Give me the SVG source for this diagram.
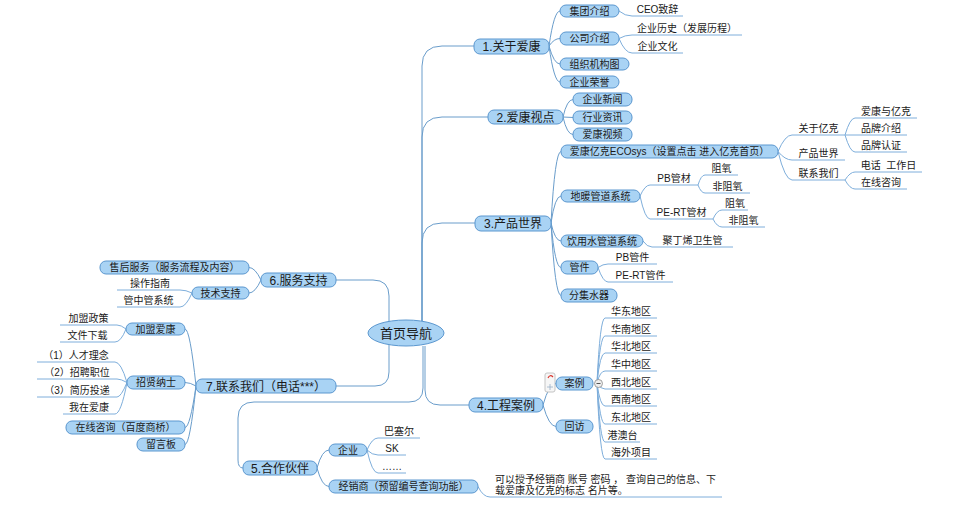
<svg xmlns="http://www.w3.org/2000/svg" width="960" height="506" viewBox="0 0 960 506">
<style>
text{font-family:"Liberation Sans","Noto Sans CJK SC",sans-serif;fill:#1a1a1a}
.m{fill:#a9d3f4;stroke:#5b97cf;stroke-width:1}
.s{fill:#a9d3f4;stroke:#5b97cf;stroke-width:1}
.t13{font-size:13px;text-anchor:middle}
.t12{font-size:12px;text-anchor:middle}
.t10{font-size:10px;text-anchor:middle}
.l10{font-size:10px}
.c{fill:none;stroke:#6a9dcb;stroke-width:1}
.u{fill:none;stroke:#7eaedb;stroke-width:1}
</style>
<rect width="960" height="506" fill="#ffffff"/>
<g id="connectors">
<!-- center to main -->
<path class="c" d="M422,321 L422,66 Q422,46 442,46 L474,46"/>
<path class="c" d="M422,321 L422,137 Q422,117 442,117 L488,117"/>
<path class="c" d="M422,321 L422,243 Q422,223 442,223 L475,223"/>
<path class="c" d="M425,346 L425,390 Q425,405 440,405 L469,405"/>
<path class="c" d="M423,346 L423,388 Q423,402 409,402 L254,402 Q238,402 238,418 L238,460 Q238,468 243,468"/>
<path class="c" d="M389,322 L389,296 Q389,280 373,280 L336,280"/>
<path class="c" d="M389,345 L389,372 Q389,386 375,386 L336,386"/>
<!-- 1 kids -->
<path class="c" d="M549,46 Q554,11 560,11"/>
<path class="c" d="M549,46 Q554,38.5 560,38.5"/>
<path class="c" d="M549,46 Q554,64 560,64"/>
<path class="c" d="M549,46 Q554,82 560,82"/>
<path class="u" d="M619,11 Q625,16 632,16 L683,16"/>
<path class="u" d="M619,38.5 Q625,35 632,35 L742,35"/>
<path class="u" d="M619,38.5 Q625,53 632,53 L683,53"/>
<!-- 2 kids -->
<path class="c" d="M563,117 Q567,99.5 573,99.5"/>
<path class="c" d="M563,117 L573,117.5"/>
<path class="c" d="M563,117 Q567,134.5 573,134.5"/>
<!-- 3 kids -->
<path class="c" d="M551,223 Q555,151.5 561,151.5"/>
<path class="c" d="M551,223 Q555,196 561,196"/>
<path class="c" d="M551,223 Q555,241 561,241"/>
<path class="c" d="M551,223 Q555,267.5 561,267.5"/>
<path class="c" d="M551,223 Q555,295.5 561,295.5"/>
<path class="u" d="M778,151.5 Q785,135 792,135 L845,135"/>
<path class="u" d="M778,151.5 Q785,160 792,160 L845,160"/>
<path class="u" d="M778,151.5 Q785,180 792,180 L845,180"/>
<path class="u" d="M845,135 Q850,118 855,118 L917,118"/>
<path class="u" d="M845,135 L907,135"/>
<path class="u" d="M845,135 Q850,152 855,152 L907,152"/>
<path class="u" d="M845,180 Q850,172 855,172 L922,172"/>
<path class="u" d="M845,180 Q850,189 855,189 L907,189"/>
<path class="u" d="M640,196 Q645,185 650,185 L698,185"/>
<path class="u" d="M640,196 Q645,219 650,219 L713,219"/>
<path class="u" d="M698,185 Q701,175 705,175 L738,175"/>
<path class="u" d="M698,185 Q701,193 705,193 L750,193"/>
<path class="u" d="M713,219 Q717,210 722,210 L748,210"/>
<path class="u" d="M713,219 Q717,227 722,227 L765,227"/>
<path class="u" d="M643,241 Q647,247 652,247 L733,247"/>
<path class="u" d="M598,267.5 Q603,264 608,264 L657,264"/>
<path class="u" d="M598,267.5 Q603,282 608,282 L673,282"/>
<!-- 4 kids -->
<path class="c" d="M543,405 Q549,383.5 556,383.5"/>
<path class="c" d="M543,405 Q549,426.5 556,426.5"/>
<path class="u" d="M597,383 Q600,318 605,318 L657,318"/>
<path class="u" d="M597,383 Q600,336 605,336 L657,336"/>
<path class="u" d="M597,383 Q600,353 605,353 L657,353"/>
<path class="u" d="M597,383 Q600,371 605,371 L657,371"/>
<path class="u" d="M597,383 Q600,389 605,389 L657,389"/>
<path class="u" d="M597,383 Q600,406 605,406 L657,406"/>
<path class="u" d="M597,383 Q600,424 605,424 L657,424"/>
<path class="u" d="M597,383 Q600,442 605,442 L640,442"/>
<path class="u" d="M597,383 Q600,459 605,459 L657,459"/>
<!-- 5 kids -->
<path class="c" d="M317,468 Q322,450 329,450"/>
<path class="c" d="M317,468 Q322,486.5 329,486.5"/>
<path class="u" d="M367,450 Q372,438 378,438 L420,438"/>
<path class="u" d="M367,450 Q372,455 378,455 L406,455"/>
<path class="u" d="M367,450 Q372,473 378,473 L406,473"/>
<path class="u" d="M478,486.5 Q483,497 490,497 L722,497"/>
<!-- 6 kids -->
<path class="c" d="M261,280 Q255,267.5 249,267.5"/>
<path class="c" d="M261,280 Q255,293 249,293"/>
<path class="u" d="M192,293 Q186,290 180,290 L117,290"/>
<path class="u" d="M192,293 Q186,307 180,307 L117,307"/>
<!-- 7 kids -->
<path class="c" d="M196,386 Q190,329 185,329"/>
<path class="c" d="M196,386 Q190,382.5 185,382.5"/>
<path class="c" d="M196,386 Q190,427.5 185,427.5"/>
<path class="c" d="M196,386 Q190,444.5 185,444.5"/>
<path class="u" d="M126,329 Q121,325 117,325 L60,325"/>
<path class="u" d="M126,329 Q121,342 115,342 L60,342"/>
<path class="u" d="M127,382.5 Q121,362 115,362 L37,362"/>
<path class="u" d="M127,382.5 Q121,379 117,379 L37,379"/>
<path class="u" d="M127,382.5 Q121,397 117,397 L37,397"/>
<path class="u" d="M127,382.5 Q121,414 115,414 L63,414"/>
</g>

<g id="center">
<ellipse cx="406" cy="333" rx="38" ry="13" class="m"/>
<text x="406" y="338" class="t13">首页导航</text>
</g>

<g id="n1">
<rect x="474" y="39" width="75" height="15" rx="6" class="m"/>
<text x="511.5" y="51" class="t12">1.关于爱康</text>
</g>
<g id="n1-1"><rect x="560" y="5" width="59" height="12" rx="6" class="s"/><text x="589.5" y="14.5" class="t10">集团介绍</text></g>
<g id="n1-1-1"><text x="657.5" y="13" class="t10">CEO致辞</text></g>
<g id="n1-2"><rect x="560" y="32" width="59" height="13" rx="6" class="s"/><text x="589.5" y="42" class="t10">公司介绍</text></g>
<g id="n1-2-1"><text x="687" y="32" class="t10">企业历史（发展历程）</text></g>
<g id="n1-2-2"><text x="657.5" y="50" class="t10">企业文化</text></g>
<g id="n1-3"><rect x="560" y="58" width="69" height="12" rx="6" class="s"/><text x="594.5" y="67.5" class="t10">组织机构图</text></g>
<g id="n1-4"><rect x="560" y="76" width="59" height="12" rx="6" class="s"/><text x="589.5" y="85.5" class="t10">企业荣誉</text></g>

<g id="n2">
<rect x="488" y="110" width="75" height="14" rx="6" class="m"/>
<text x="525.5" y="121.5" class="t12">2.爱康视点</text>
</g>
<g id="n2-1"><rect x="573" y="93" width="59" height="13" rx="6" class="s"/><text x="602.5" y="103" class="t10">企业新闻</text></g>
<g id="n2-2"><rect x="573" y="111" width="59" height="13" rx="6" class="s"/><text x="602.5" y="121" class="t10">行业资讯</text></g>
<g id="n2-3"><rect x="573" y="128" width="59" height="13" rx="6" class="s"/><text x="602.5" y="138" class="t10">爱康视频</text></g>

<g id="n3">
<rect x="475" y="216" width="76" height="15" rx="6" class="m"/>
<text x="513" y="228" class="t12">3.产品世界</text>
</g>
<g id="n3-1"><rect x="561" y="145" width="217" height="13" rx="6" class="s"/><text x="669.5" y="155" class="t10">爱康亿克ECOsys（设置点击 进入亿克首页）</text></g>
<g id="n3-1-1"><text x="818.5" y="132" class="t10">关于亿克</text></g>
<g id="n3-1-1-1"><text x="886" y="115" class="t10">爱康与亿克</text></g>
<g id="n3-1-1-2"><text x="881" y="132" class="t10">品牌介绍</text></g>
<g id="n3-1-1-3"><text x="881" y="149" class="t10">品牌认证</text></g>
<g id="n3-1-2"><text x="818.5" y="157" class="t10">产品世界</text></g>
<g id="n3-1-3"><text x="818.5" y="177" class="t10">联系我们</text></g>
<g id="n3-1-3-1"><text x="888.5" y="169" class="t10" xml:space="preserve">电话  工作日</text></g>
<g id="n3-1-3-2"><text x="881" y="186" class="t10">在线咨询</text></g>
<g id="n3-2"><rect x="561" y="190" width="79" height="12" rx="6" class="s"/><text x="600.5" y="199.5" class="t10">地暖管道系统</text></g>
<g id="n3-2-1"><text x="674" y="182" class="t10">PB管材</text></g>
<g id="n3-2-1-1"><text x="721.5" y="172" class="t10">阻氧</text></g>
<g id="n3-2-1-2"><text x="727.5" y="190" class="t10">非阻氧</text></g>
<g id="n3-2-2"><text x="681.5" y="216" class="t10">PE-RT管材</text></g>
<g id="n3-2-2-1"><text x="735" y="207" class="t10">阻氧</text></g>
<g id="n3-2-2-2"><text x="743.5" y="224" class="t10">非阻氧</text></g>
<g id="n3-3"><rect x="561" y="235" width="82" height="12" rx="6" class="s"/><text x="602" y="244.5" class="t10">饮用水管道系统</text></g>
<g id="n3-3-1"><text x="692.5" y="244" class="t10">聚丁烯卫生管</text></g>
<g id="n3-4"><rect x="561" y="261" width="37" height="13" rx="6" class="s"/><text x="579.5" y="271" class="t10">管件</text></g>
<g id="n3-4-1"><text x="632.5" y="261" class="t10">PB管件</text></g>
<g id="n3-4-2"><text x="640.5" y="279" class="t10">PE-RT管件</text></g>
<g id="n3-5"><rect x="561" y="289" width="56" height="13" rx="6" class="s"/><text x="589" y="299" class="t10">分集水器</text></g>

<g id="n4">
<rect x="469" y="398" width="74" height="14" rx="6" class="m"/>
<text x="506" y="409.5" class="t12">4.工程案例</text>
</g>
<g id="n4-1">
<rect x="545" y="373" width="10" height="19" rx="2" fill="#f6f6f6" stroke="#c4c4c4"/>
<path d="M548,378 Q550,374 553,377" fill="none" stroke="#d9342b" stroke-width="1.2"/>
<path d="M550,384 L550,390 M547,387 L553,387" fill="none" stroke="#9ab0c8" stroke-width="0.8"/>
<rect x="556" y="377" width="37" height="13" rx="6" class="s"/><text x="574.5" y="387" class="t10">案例</text>
<circle cx="598.5" cy="383.5" r="4" fill="#eeeeee" stroke="#8a8a8a" stroke-width="0.8"/>
<path d="M596.5,383.5 L600.5,383.5" stroke="#555" stroke-width="1"/>
</g>
<g id="n4-1-1"><text x="631" y="315" class="t10">华东地区</text></g>
<g id="n4-1-2"><text x="631" y="333" class="t10">华南地区</text></g>
<g id="n4-1-3"><text x="631" y="350" class="t10">华北地区</text></g>
<g id="n4-1-4"><text x="631" y="368" class="t10">华中地区</text></g>
<g id="n4-1-5"><text x="631" y="386" class="t10">西北地区</text></g>
<g id="n4-1-6"><text x="631" y="403" class="t10">西南地区</text></g>
<g id="n4-1-7"><text x="631" y="421" class="t10">东北地区</text></g>
<g id="n4-1-8"><text x="622.5" y="439" class="t10">港澳台</text></g>
<g id="n4-1-9"><text x="631" y="456" class="t10">海外项目</text></g>
<g id="n4-2"><rect x="556" y="420" width="37" height="13" rx="6" class="s"/><text x="574.5" y="430" class="t10">回访</text></g>

<g id="n5">
<rect x="243" y="461" width="74" height="14" rx="6" class="m"/>
<text x="280" y="472.5" class="t12">5.合作伙伴</text>
</g>
<g id="n5-1"><rect x="329" y="444" width="38" height="12" rx="6" class="s"/><text x="348" y="453.5" class="t10">企业</text></g>
<g id="n5-1-1"><text x="399" y="435" class="t10">巴塞尔</text></g>
<g id="n5-1-2"><text x="392" y="452" class="t10">SK</text></g>
<g id="n5-1-3"><text x="392" y="470" class="t10">……</text></g>
<g id="n5-2"><rect x="329" y="480" width="149" height="13" rx="6" class="s"/><text x="403.5" y="490" class="t10">经销商（预留编号查询功能）</text></g>
<g id="n5-2-1">
<text x="495" y="483" class="l10">可以授予经销商 账号 密码 ， 查询自己的信息、下</text>
<text x="495" y="494" class="l10">载爱康及亿克的标志 名片等。</text>
</g>

<g id="n6">
<rect x="261" y="273" width="75" height="14" rx="6" class="m"/>
<text x="298.5" y="284.5" class="t12">6.服务支持</text>
</g>
<g id="n6-1"><rect x="100" y="261" width="149" height="13" rx="6" class="s"/><text x="174.5" y="271" class="t10">售后服务（服务流程及内容）</text></g>
<g id="n6-2"><rect x="192" y="287" width="57" height="12" rx="6" class="s"/><text x="220.5" y="296.5" class="t10">技术支持</text></g>
<g id="n6-2-1"><text x="150" y="287" class="t10">操作指南</text></g>
<g id="n6-2-2"><text x="148.5" y="304" class="t10">管中管系统</text></g>

<g id="n7">
<rect x="196" y="379" width="140" height="14" rx="6" class="m"/>
<text x="266" y="390.5" class="t12">7.联系我们（电话***）</text>
</g>
<g id="n7-1"><rect x="126" y="323" width="59" height="12" rx="6" class="s"/><text x="155.5" y="332.5" class="t10">加盟爱康</text></g>
<g id="n7-1-1"><text x="88.5" y="322" class="t10">加盟政策</text></g>
<g id="n7-1-2"><text x="87.5" y="339" class="t10">文件下载</text></g>
<g id="n7-2"><rect x="127" y="376" width="58" height="13" rx="6" class="s"/><text x="156" y="386" class="t10">招贤纳士</text></g>
<g id="n7-2-1"><text x="76" y="359" class="t10">（1）人才理念</text></g>
<g id="n7-2-2"><text x="77" y="376" class="t10">（2）招聘职位</text></g>
<g id="n7-2-3"><text x="77" y="394" class="t10">（3）简历投递</text></g>
<g id="n7-2-4"><text x="89" y="411" class="t10">我在爱康</text></g>
<g id="n7-3"><rect x="66" y="421" width="119" height="13" rx="6" class="s"/><text x="125.5" y="431" class="t10">在线咨询（百度商桥）</text></g>
<g id="n7-4"><rect x="137" y="438" width="48" height="13" rx="6" class="s"/><text x="161" y="448" class="t10">留言板</text></g>
</svg>
